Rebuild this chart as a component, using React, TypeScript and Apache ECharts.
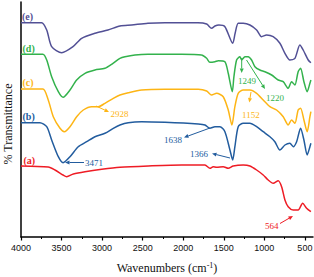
import React, { useEffect, useRef } from "react";
import * as echarts from "echarts";

// Wavenumbers (cm^-1) and relative transmittance (offset curves)
const wnE = [4000, 3745, 3683, 3622, 3498, 3359, 3252, 3088, 2928, 2780, 2636, 2435, 2225, 2020, 1819, 1711, 1650, 1609, 1560, 1486, 1390, 1360, 1322, 1260, 1178, 1095, 1034, 972, 891, 808, 746, 685, 623, 562, 521, 459, 426];
const tE = [214.3, 214.3, 207, 190.3, 184.3, 190.3, 198.7, 203.7, 207, 211, 212, 213.7, 214.3, 214.3, 214.3, 213, 208.7, 211, 212, 210.3, 193.7, 203.7, 213.7, 213.7, 212, 207, 200.3, 202, 200.3, 193.7, 183.7, 177, 178.7, 192, 187, 177, 174.3];

const wnD = [4000, 3730, 3683, 3622, 3540, 3481, 3396, 3314, 3211, 3088, 2965, 2866, 2780, 2718, 2595, 2435, 2020, 1773, 1711, 1671, 1609, 1568, 1486, 1445, 1395, 1375, 1342, 1301, 1280, 1239, 1199, 1157, 1116, 1055, 993, 910, 829, 767, 706, 664, 623, 583, 553, 512, 472, 438, 426];
const tD = [182.7, 182.7, 177, 160.3, 145.3, 139.7, 147, 157, 163.7, 167, 168.7, 173.7, 178.7, 180.3, 182, 182.7, 182.7, 182, 178.7, 174.7, 175.3, 176.3, 175.3, 163.7, 145.3, 160.3, 177, 180.3, 177, 180.3, 180.3, 177, 170.3, 167, 165.3, 162, 157, 155.3, 148.7, 155.3, 152, 165.3, 168.7, 155.3, 145.3, 153.7, 157];

const wnC = [4000, 3730, 3664, 3602, 3519, 3466, 3396, 3314, 3232, 3129, 3047, 2965, 2862, 2780, 2678, 2513, 2225, 1815, 1711, 1650, 1588, 1507, 1445, 1400, 1363, 1322, 1260, 1178, 1095, 1014, 931, 849, 767, 706, 664, 623, 583, 553, 512, 472, 438, 426];
const tC = [148, 148, 137, 120.3, 108.7, 105.3, 110.3, 120.3, 127, 130.3, 130.3, 133.7, 138.7, 142, 144.3, 147, 147.7, 147.7, 146, 142, 143.7, 140.3, 127, 112, 130.3, 143.7, 147, 147, 143.7, 137, 130.3, 127, 120.3, 112, 117, 113.7, 127, 128.7, 117, 105.3, 120.3, 125.3];

const wnB = [4000, 3766, 3683, 3622, 3540, 3481, 3396, 3294, 3190, 3088, 2965, 2862, 2780, 2678, 2513, 2225, 1815, 1732, 1671, 1609, 1547, 1486, 1424, 1390, 1363, 1322, 1260, 1178, 1095, 1014, 931, 870, 808, 746, 685, 644, 602, 553, 512, 472, 438, 426];
const tB = [114.3, 114.3, 110.3, 97, 80.3, 74.3, 80.3, 90.3, 95.3, 100.3, 103.7, 108.7, 112, 114.3, 115.3, 114.7, 113, 112, 108.7, 110.3, 110.3, 105.3, 87, 77, 90.3, 110.3, 113.7, 113.7, 110.3, 105.3, 100.3, 95.3, 87, 92, 93.7, 90.3, 95.3, 108.7, 97, 82, 90.3, 93.7];

const wnA = [4000, 3664, 3581, 3481, 3437, 3355, 3211, 3005, 2780, 2431, 2020, 1732, 1671, 1630, 1588, 1507, 1445, 1384, 1260, 1178, 1095, 1014, 952, 891, 829, 787, 746, 706, 644, 583, 528, 479, 426];
const tA = [71, 70, 67, 62, 60.3, 63, 65.3, 67.7, 69.7, 71, 72, 72, 68.7, 70.3, 69.7, 70.3, 68.7, 71, 72, 71, 67, 62, 57, 53.7, 56.3, 50.3, 37, 30.3, 27, 27, 33.7, 28.7, 25.3];

const curveNames = ["(a)", "(b)", "(c)", "(d)", "(e)"];
const curveColors = ["#ee1c25", "#225c9e", "#fdb515", "#33b24c", "#525095"];
const xTickValues = [4000, 3500, 3000, 2500, 2000, 1500, 1000, 500];
const xMinorTickValues = [3750, 3250, 2750, 2250, 1750, 1250, 750];

const serif = "'Liberation Serif', 'Times New Roman', serif";

function arrow(x1: number, y1: number, x2: number, y2: number, color: string) {
  const a = Math.atan2(y2 - y1, x2 - x1);
  const L = 4.5, W = 2;
  const c = Math.cos(a), s = Math.sin(a);
  const bx = x2 - L * c, by = y2 - L * s;
  return {
    type: "group",
    silent: true,
    children: [
      { type: "line", shape: { x1, y1, x2: bx, y2: by }, style: { stroke: color, lineWidth: 1 } },
      {
        type: "polygon",
        shape: { points: [[x2, y2], [bx - W * s, by + W * c], [bx + W * s, by - W * c]] },
        style: { fill: color },
      },
    ],
  };
}

function txt(x: number, y: number, t: string, color: string, size = 9, bold = false, align = "left") {
  return {
    type: "text",
    x,
    y,
    silent: true,
    style: {
      text: t,
      fill: color,
      font: `${bold ? "bold " : ""}${size}px ${serif}`,
      textAlign: align,
      textVerticalAlign: "middle",
    },
  };
}

const axisCommon = {
  type: "value",
  inverse: true,
  min: 400,
  max: 4000,
  splitLine: { show: false },
};

export default function App() {
  const ref = useRef<HTMLDivElement>(null);
  useEffect(() => {
    if (!ref.current) return;
    const chart = echarts.init(ref.current, null, { renderer: "svg" });
    const sets = [
      [wnA, tA],
      [wnB, tB],
      [wnC, tC],
      [wnD, tD],
      [wnE, tE],
    ];
    const series = sets.map(([wn, t], i) => ({
      name: curveNames[i],
      type: "line",
      data: (wn as number[]).map((w, j) => [w, (t as number[])[j]]),
      showSymbol: false,
      smooth: 0.25,
      lineStyle: { color: curveColors[i], width: 1.5 },
      itemStyle: { color: curveColors[i] },
    }));
    const [cA, cB, cC, cD, cE] = curveColors;
    chart.setOption({
      animation: false,
      grid: { left: 21, right: 1, top: 2, bottom: 40, containLabel: false, outerBoundsMode: "none" },
      xAxis: [
        {
          ...axisCommon,
          name: "Wavenumbers (cm{sup|-1})",
          nameLocation: "middle",
          nameGap: 24,
          nameTextStyle: {
            fontFamily: serif,
            fontSize: 12,
            color: "#111",
            rich: { sup: { fontFamily: serif, fontSize: 8, verticalAlign: "top", padding: [0, 0, 6, 0], color: "#111" } },
          },
          axisLine: { show: true, lineStyle: { color: "#000", width: 1.5 } },
          axisTick: { show: true, length: 3.5, lineStyle: { color: "#000", width: 1.2 }, customValues: xTickValues },
          minorTick: { show: false },
          axisLabel: {
            fontFamily: "'Liberation Sans', Arial, sans-serif",
            fontSize: 9,
            color: "#111",
            margin: 6,
            customValues: xTickValues,
            formatter: (v: number) => String(v),
          },
        },
        {
          ...axisCommon,
          position: "bottom",
          axisLine: { show: false },
          axisTick: { show: true, length: 2, lineStyle: { color: "#000", width: 1 }, customValues: xMinorTickValues },
          axisLabel: { show: false, customValues: xMinorTickValues },
        },
      ],
      yAxis: {
        type: "value",
        min: 0,
        max: 235,
        axisLine: { show: true, lineStyle: { color: "#000", width: 1.5 } },
        axisTick: { show: false },
        axisLabel: { show: false },
        splitLine: { show: false },
      },
      series,
      graphic: [
        {
          type: "text",
          x: 8,
          y: 124,
          rotation: Math.PI / 2,
          silent: true,
          style: {
            text: "% Transmittance",
            fill: "#111",
            font: `12px ${serif}`,
            textAlign: "center",
            textVerticalAlign: "middle",
          },
        },
        txt(22, 16.5, "(e)", cE, 10, true),
        txt(22.5, 48.5, "(d)", cD, 10, true),
        txt(22.5, 82, "(c)", cC, 10, true),
        txt(22.5, 116, "(b)", cB, 10, true),
        txt(23.5, 160, "(a)", cA, 10, true),
        arrow(96, 106, 109, 112, cC),
        txt(110.5, 113.5, "2928", cC),
        arrow(84, 162.5, 65, 162.5, cB),
        txt(85, 162.5, "3471", cB),
        arrow(210, 128, 184, 137.5, cB),
        txt(164, 139.5, "1638", cB),
        arrow(230, 158, 212, 153.5, cB),
        txt(190, 153.5, "1366", cB),
        arrow(241.7, 58, 241.7, 73, cD),
        txt(238, 80.5, "1249", cD),
        arrow(246.5, 60, 265, 89, cD),
        txt(266, 97.5, "1220", cD),
        arrow(251, 92, 249.3, 102.5, cC),
        txt(242, 114.5, "1152", cC),
        arrow(280, 223.5, 293, 216, cA),
        txt(265, 225.5, "564", cA),
      ],
    });
    return () => chart.dispose();
  }, []);
  return (
    <div
      ref={ref}
      style={{ position: "fixed", left: 0, top: 0, width: 314, height: 277, background: "#fff" }}
    />
  );
}
